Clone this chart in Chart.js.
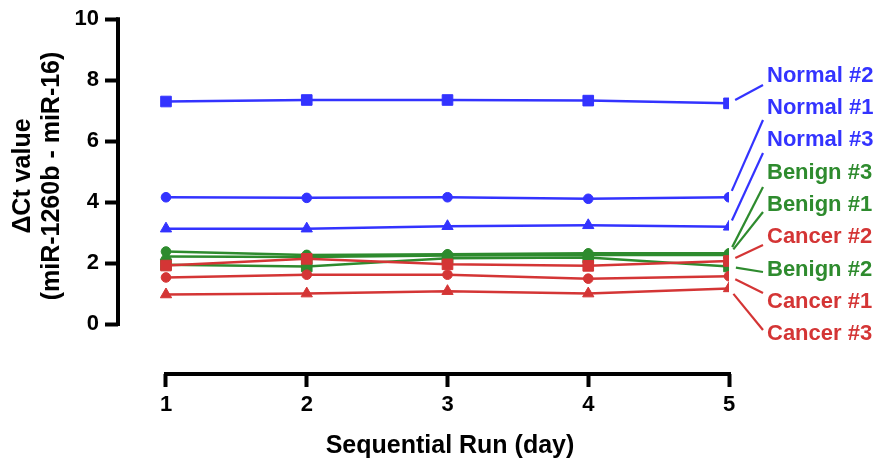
<!DOCTYPE html>
<html>
<head>
<meta charset="utf-8">
<script src="https://cdn.jsdelivr.net/npm/chart.js@4.4.1/dist/chart.umd.min.js"></script>
<style>
html,body{margin:0;padding:0;background:#fff;}
</style>
</head>
<body>
<canvas id="ctChart" width="886" height="466"></canvas>
<script>
// ==========================================================
// Data
// ==========================================================

const days = [1, 2, 3, 4, 5];
const yTicks = [0, 2, 4, 6, 8, 10];

const normal2 = [7.30, 7.35, 7.35, 7.33, 7.24];
const normal1 = [4.16, 4.14, 4.16, 4.11, 4.16];
const normal3 = [3.13, 3.13, 3.21, 3.24, 3.19];

const benign3 = [2.38, 2.27, 2.29, 2.32, 2.32];
const benign1 = [2.22, 2.20, 2.25, 2.27, 2.27];
const benign2 = [1.95, 1.89, 2.16, 2.18, 1.89];

const cancer2 = [1.92, 2.14, 1.96, 1.91, 2.07];
const cancer1 = [1.53, 1.62, 1.62, 1.49, 1.57];
const cancer3 = [0.97, 1.00, 1.08, 1.00, 1.17];

// order of the labels on the right, top to bottom
const labelOrder = [
    "Normal #2", "Normal #1", "Normal #3",
    "Benign #3", "Benign #1", "Cancer #2",
    "Benign #2", "Cancer #1", "Cancer #3"
];

// ==========================================================
// Styles
// ==========================================================

const BLUE = "#3333FF";
const GREEN = "#2E8B2E";
const RED = "#D43535";
const FONT = "'Liberation Sans', Arial, sans-serif";

// first in list = drawn on top
const series = [
    { name: "Cancer #2", data: cancer2, color: RED,   shape: "rect" },
    { name: "Cancer #1", data: cancer1, color: RED,   shape: "circle" },
    { name: "Cancer #3", data: cancer3, color: RED,   shape: "triangle" },
    { name: "Benign #2", data: benign2, color: GREEN, shape: "rect" },
    { name: "Benign #3", data: benign3, color: GREEN, shape: "circle" },
    { name: "Benign #1", data: benign1, color: GREEN, shape: "triangle" },
    { name: "Normal #2", data: normal2, color: BLUE,  shape: "rect" },
    { name: "Normal #1", data: normal1, color: BLUE,  shape: "circle" },
    { name: "Normal #3", data: normal3, color: BLUE,  shape: "triangle" }
];

const radiusFor = { rect: 7.5, circle: 4.8, triangle: 6.5 };

// ==========================================================
// Axis lines, titles and end labels
// ==========================================================

const labelLayout = {
    x: 767,
    firstY: 75.7,
    step: 32.3,
    leaderEndX: 763,
    leaderEndY: [85, 120, 153, 187, 212, 245, 272, 293, 330]
};

const decorPlugin = {

    id: "decor",

    afterDraw(chart){

        const ctx = chart.ctx;
        const xs = chart.scales.x;
        const ys = chart.scales.y;

        ctx.save();

        // axis lines
        ctx.strokeStyle = "#000";
        ctx.lineWidth = 4;
        ctx.lineCap = "square";

        ctx.beginPath();
        ctx.moveTo(chart.chartArea.left, ys.getPixelForValue(10));
        ctx.lineTo(chart.chartArea.left, ys.getPixelForValue(0));
        ctx.stroke();

        ctx.beginPath();
        ctx.moveTo(xs.getPixelForValue(1), chart.chartArea.bottom);
        ctx.lineTo(xs.getPixelForValue(5), chart.chartArea.bottom);
        ctx.stroke();

        // axis titles
        ctx.fillStyle = "#000";
        ctx.font = "bold 25px " + FONT;
        ctx.textAlign = "center";
        ctx.textBaseline = "middle";

        ctx.fillText("Sequential Run (day)", 450, 446);

        ctx.save();
        ctx.translate(0, 176);
        ctx.rotate(-Math.PI / 2);
        ctx.fillText("\u0394Ct value", 0, 23);
        ctx.fillText("(miR-1260b - miR-16)", 0, 52);
        ctx.restore();

        // end labels with leader lines
        ctx.font = "bold 22px " + FONT;
        ctx.textAlign = "left";
        ctx.lineCap = "butt";
        ctx.lineWidth = 2.2;

        labelOrder.forEach((name, i) => {

            const s = series.find(d => d.name === name);
            const px = xs.getPixelForValue(days[days.length - 1]);
            const py = ys.getPixelForValue(s.data[s.data.length - 1]);

            const ex = labelLayout.leaderEndX;
            const ey = labelLayout.leaderEndY[i];

            const dx = ex - px, dy = ey - py;
            const len = Math.hypot(dx, dy);
            const sx = px + dx / len * 7;
            const sy = py + dy / len * 7;

            ctx.strokeStyle = s.color;
            ctx.beginPath();
            ctx.moveTo(sx, sy);
            ctx.lineTo(ex, ey);
            ctx.stroke();

            ctx.fillStyle = s.color;
            ctx.fillText(name, labelLayout.x, labelLayout.firstY + i * labelLayout.step);

        });

        ctx.restore();

    }

};

// ==========================================================
// Chart
// ==========================================================

const datasets = series.map(s => ({
    label: s.name,
    data: days.map((d, i) => ({ x: d, y: s.data[i] })),
    borderColor: s.color,
    backgroundColor: s.color,
    pointBackgroundColor: s.color,
    pointBorderColor: s.color,
    pointBorderWidth: 1,
    pointStyle: s.shape,
    pointRadius: radiusFor[s.shape],
    borderWidth: 2.5,
    tension: 0,
    fill: false
}));

const tickFont = { family: FONT, size: 22, weight: "bold" };

new Chart(document.getElementById("ctChart"), {

    type: "line",

    data: { datasets },

    options: {

        responsive: false,
        animation: false,
        devicePixelRatio: 1,

        layout: {
            padding: { top: 15, right: 157, left: 0, bottom: 0 }
        },

        plugins: {
            legend: { display: false },
            tooltip: { enabled: false }
        },

        scales: {

            x: {
                type: "linear",
                min: 0.659,
                max: 5,
                afterBuildTicks: s => { s.ticks = days.map(v => ({ value: v })); },
                afterFit: s => { s.height = 92; },
                border: { display: false },
                grid: {
                    drawOnChartArea: false,
                    drawTicks: true,
                    tickLength: 13,
                    tickWidth: 4,
                    tickColor: "#000"
                },
                ticks: {
                    color: "#000",
                    font: tickFont,
                    padding: 5,
                    maxRotation: 0
                }
            },

            y: {
                type: "linear",
                min: -1.637,
                max: 10,
                afterBuildTicks: s => { s.ticks = yTicks.map(v => ({ value: v })); },
                afterFit: s => { s.width = 118; },
                border: { display: false },
                grid: {
                    drawOnChartArea: false,
                    drawTicks: true,
                    tickLength: 13,
                    tickWidth: 4,
                    tickColor: "#000"
                },
                ticks: {
                    color: "#000",
                    font: tickFont,
                    padding: 6
                }
            }

        }

    },

    plugins: [decorPlugin]

});
</script>
</body>
</html>
